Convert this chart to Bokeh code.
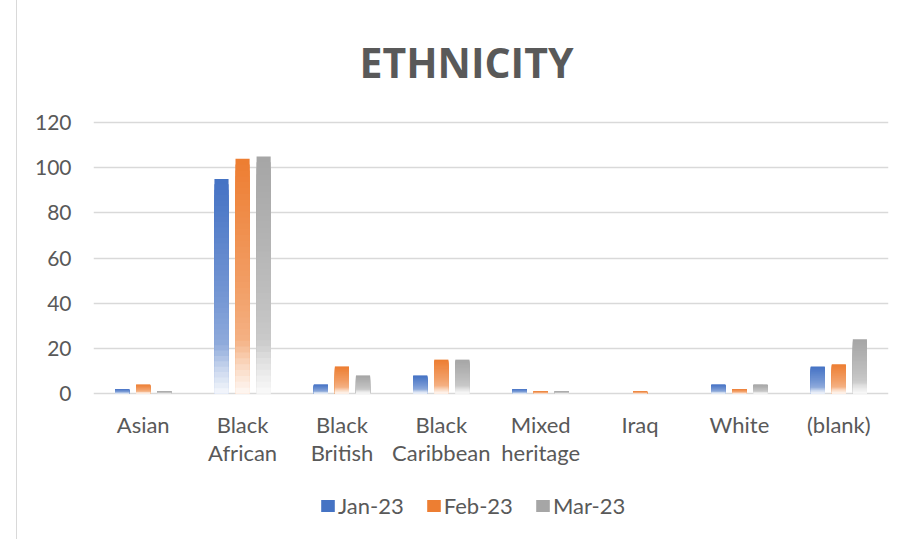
import numpy as np
from bokeh.plotting import figure
from bokeh.models import (ColumnDataSource, FactorRange, Range1d, Legend, LegendItem,
                          FixedTicker)
from bokeh.core.properties import value
from bokeh.transform import dodge
from bokeh.embed import file_html
from bokeh.resources import INLINE

# ---- data ----
categories = ["Asian", "Black\nAfrican", "Black\nBritish", "Black\nCaribbean",
              "Mixed\nheritage", "Iraq", "White", "(blank)"]
series_names = ["Jan-23", "Feb-23", "Mar-23"]
jan = [2, 95, 4, 8, 2, 0, 4, 12]
feb = [4, 104, 12, 15, 1, 1, 2, 13]
mar = [1, 105, 8, 15, 1, 0, 4, 24]
y_ticks = [0, 20, 40, 60, 80, 100, 120]

series_values = [jan, feb, mar]
series_colors = ["#4472C4", "#ED7D31", "#A5A5A5"]
offsets = [-0.212, 0.0, 0.212]
BAR_W = 0.142
TXT = "#595959"
FONT = "Lato"

def mix_white(hexcol, w):
    h = hexcol.lstrip("#")
    r, g, b = (int(h[i:i + 2], 16) for i in (0, 2, 4))
    r = round(r + (255 - r) * w)
    g = round(g + (255 - g) * w)
    b = round(b + (255 - b) * w)
    return "#%02x%02x%02x" % (r, g, b)

# gradient profile (fraction from top -> whitening)
g_t = [0.0, 0.55, 0.77, 0.88, 1.0]
g_w = [0.0, 0.26, 0.40, 0.70, 0.95]
K = 40

# frame: value 120 at 122px, value 0 at 393px; frame spans 119..530px
FRAME_TOP, FRAME_BOTTOM = 119, 530
PX_PER_UNIT = (393 - 122) / 120.0
Y_START = -(FRAME_BOTTOM - 393) / PX_PER_UNIT
Y_END = 120 + (122 - FRAME_TOP) / PX_PER_UNIT

p = figure(width=881, height=539, x_range=FactorRange(*categories),
           y_range=Range1d(Y_START, Y_END), output_backend="svg", toolbar_location=None,
           min_border_left=76, min_border_right=10, min_border_top=FRAME_TOP,
           min_border_bottom=539 - FRAME_BOTTOM,
           styles={"margin-left": "16px", "border-left": "1px solid #d9d9d9"})
p.x_range.range_padding = 0
p.outline_line_color = None
p.background_fill_color = "white"
p.border_fill_color = "white"

renderers = []
for vals, col, off in zip(series_values, series_colors, offsets):
    xs, tops, colors = [], [], []
    # layered bars from the base: full-height (top colour) first, shorter lighter ones over it
    for k in range(K):
        t = (k + 0.5) / K
        w = float(np.interp(t, g_t, g_w))
        for cat, v in zip(categories, vals):
            xs.append(cat)
            tops.append(v * (1 - k / K))
            colors.append(mix_white(col, w))
    src = ColumnDataSource(dict(x=xs, top=tops, color=colors))
    r = p.vbar(x=dodge("x", off, range=p.x_range), top="top", bottom=0,
               width=BAR_W, source=src, fill_color="color", line_color=None)
    renderers.append(r)

# y axis
p.yaxis.ticker = FixedTicker(ticks=y_ticks)
p.yaxis.axis_line_color = None
p.yaxis.major_tick_line_color = None
p.yaxis.minor_tick_line_color = None
p.yaxis.major_label_standoff = 16
p.yaxis.major_label_text_font = FONT
p.yaxis.major_label_text_font_size = "21px"
p.yaxis.major_label_text_color = TXT

# x axis hidden; category labels drawn under the zero line
p.xaxis.visible = False
lab_src = ColumnDataSource(dict(x=categories, y=[0] * len(categories), text=categories))
p.text(x="x", y="y", text="text", source=lab_src, y_offset=17,
       text_align="center", text_baseline="top", text_color=TXT,
       text_font=value(FONT), text_font_size="22px", text_line_height=1.05)

p.xgrid.grid_line_color = None
p.ygrid.grid_line_color = "#d9d9d9"
p.ygrid.grid_line_width = 1.5

# title
p.title.text = "ETHNICITY"
p.title.align = "left"
p.title.offset = 266
p.title.standoff = 60
p.title.text_font = "Open Sans"
p.title.text_font_style = "bold"
p.title.text_font_size = "41px"
p.title.text_color = TXT

# legend (inside the frame area, below the category labels)
items = [LegendItem(label=n, renderers=[r], index=0) for n, r in zip(series_names, renderers)]
legend = Legend(items=items, orientation="horizontal", location=(226, 11),
                border_line_alpha=0, background_fill_alpha=0,
                glyph_width=17, glyph_height=15, label_standoff=2, spacing=21,
                label_text_font=FONT, label_text_font_size="22px",
                label_text_color=TXT, padding=0, margin=0)
p.add_layout(legend, "center")

open("out.html", "w").write(file_html(p, INLINE))
